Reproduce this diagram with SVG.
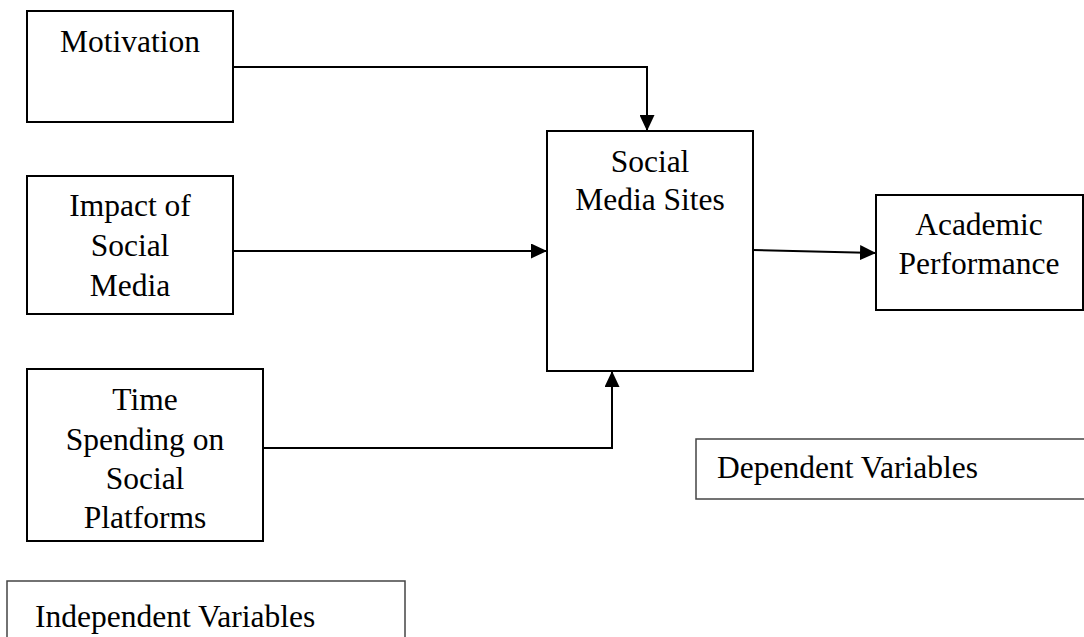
<svg xmlns="http://www.w3.org/2000/svg" width="1084" height="637" viewBox="0 0 1084 637">
<style>
.box{fill:#fff;stroke:#000;stroke-width:2}
.lbl{fill:#fff;stroke:#444;stroke-width:1.5}
.t{font-family:"Liberation Serif","Times New Roman",serif;font-size:31.5px;fill:#000}
.c{text-anchor:middle}
.conn{fill:none;stroke:#000;stroke-width:2}
</style>
<defs>
<marker id="ah" markerWidth="16" markerHeight="15" refX="16" refY="7.5" orient="auto" markerUnits="userSpaceOnUse">
<path d="M0,0 L16,7.5 L0,15 Z" fill="#000"/>
</marker>
</defs>
<rect width="1084" height="637" fill="#fff"/>
<g id="motivation">
<rect class="box" x="27" y="11" width="206" height="111"/>
<text class="t c" x="130" y="52">Motivation</text>
</g>
<g id="impact">
<rect class="box" x="27" y="176" width="206" height="138"/>
<text class="t c" x="130" y="216">Impact of</text>
<text class="t c" x="130" y="256">Social</text>
<text class="t c" x="130" y="296">Media</text>
</g>
<g id="time">
<rect class="box" x="27" y="369" width="236" height="172"/>
<text class="t c" x="145" y="410">Time</text>
<text class="t c" x="145" y="450">Spending on</text>
<text class="t c" x="145" y="489">Social</text>
<text class="t c" x="145" y="528">Platforms</text>
</g>
<g id="social-media-sites">
<rect class="box" x="547" y="131" width="206" height="240"/>
<text class="t c" x="650" y="172">Social</text>
<text class="t c" x="650" y="210">Media Sites</text>
</g>
<g id="academic">
<rect class="box" x="876" y="195" width="207" height="115"/>
<text class="t c" x="979" y="235">Academic</text>
<text class="t c" x="979" y="274">Performance</text>
</g>
<g id="dependent-label">
<rect class="lbl" x="696" y="439" width="400" height="60"/>
<text class="t" x="717" y="478">Dependent Variables</text>
</g>
<g id="independent-label">
<rect class="lbl" x="7" y="581" width="398" height="70"/>
<text class="t" x="35" y="627">Independent Variables</text>
</g>
<g id="connectors">
<path class="conn" d="M233,67 H647 V131" marker-end="url(#ah)"/>
<path class="conn" d="M233,251 H547" marker-end="url(#ah)"/>
<path class="conn" d="M263,448 H612 V371" marker-end="url(#ah)"/>
<path class="conn" d="M753,250 L876,253" marker-end="url(#ah)"/>
</g>
</svg>
